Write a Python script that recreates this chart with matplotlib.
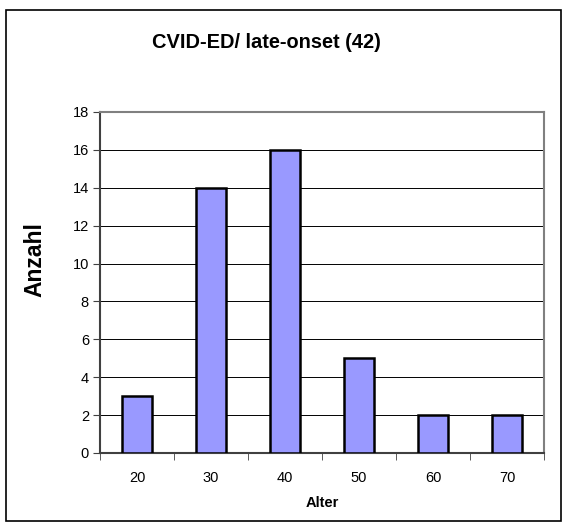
import matplotlib.pyplot as plt
from matplotlib.patches import Rectangle

ages = ["20", "30", "40", "50", "60", "70"]
counts = [3, 14, 16, 5, 2, 2]
y_ticks = list(range(0, 19, 2))

plt.rcParams["font.family"] = ["Liberation Sans", "DejaVu Sans"]

fig = plt.figure(figsize=(5.62, 5.29), dpi=100)
W, H = 562, 529

# outer chart border
fig.patches.append(Rectangle((6 / W, 1 - 521 / H), 555 / W, 511 / H,
                             transform=fig.transFigure, fill=False,
                             edgecolor="black", linewidth=1.2))

ax = fig.add_axes([100 / W, 1 - 453 / H, 444 / W, 341 / H])
x = range(len(ages))
ax.bar(x, counts, width=0.4, color="#9999ff", edgecolor="black",
       linewidth=1.8, zorder=3)

ax.set_xlim(-0.5, len(ages) - 0.5)
ax.set_ylim(0, 18)
ax.set_yticks(y_ticks)
ax.set_xticks(x)
ax.set_xticklabels(ages)
ax.set_xticks([i - 0.5 for i in range(len(ages) + 1)], minor=True)
ax.tick_params(axis="x", which="major", length=0, pad=13, labelsize=10.5)
ax.tick_params(axis="x", which="minor", length=5, direction="out", color="#404040")
ax.tick_params(axis="y", length=5, direction="out", labelsize=10.5, pad=3, color="#404040")
ax.grid(axis="y", color="black", linewidth=0.7, zorder=0)

for side in ["top", "right"]:
    ax.spines[side].set_color("#808080")
for side in ["left", "bottom"]:
    ax.spines[side].set_color("#404040")
for s in ax.spines.values():
    s.set_linewidth(1.5)

fig.text(266 / W, 1 - 43 / H, "CVID-ED/ late-onset (42)", fontsize=14.4,
         fontweight="bold", ha="center", va="center")
ax.set_xlabel("Alter", fontsize=10.5, fontweight="bold", labelpad=8)
fig.text(35 / W, 1 - 260 / H, "Anzahl", fontsize=16.5, fontweight="bold",
         rotation=90, ha="center", va="center")

fig.savefig("out.png", dpi=100)
